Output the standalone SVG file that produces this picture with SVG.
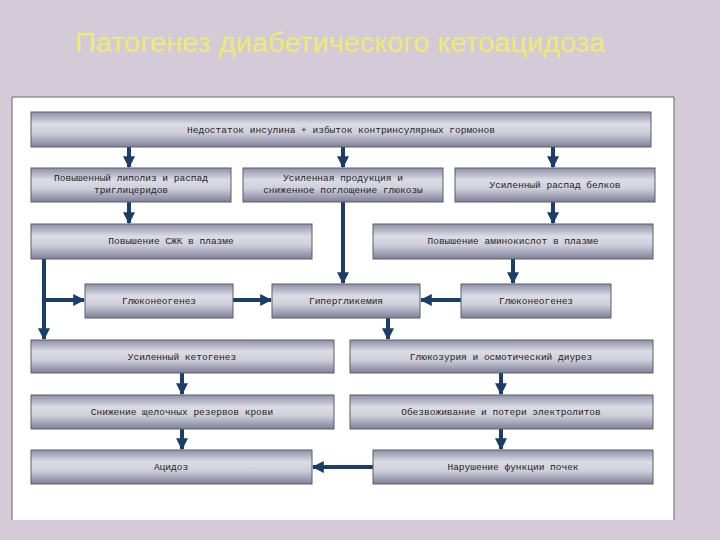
<svg xmlns="http://www.w3.org/2000/svg" width="720" height="540" viewBox="0 0 720 540">
<defs>
<linearGradient id="g" x1="0" y1="0" x2="0" y2="1">
<stop offset="0" stop-color="#8e90a6"/><stop offset="0.35" stop-color="#dcdce6"/><stop offset="0.6" stop-color="#d0d0dc"/><stop offset="1" stop-color="#7e8098"/>
</linearGradient>
<marker id="a" viewBox="0 0 10 10" refX="9" refY="5" markerWidth="3" markerHeight="3.2" orient="auto" markerUnits="strokeWidth"><path d="M0,0 L10,5 L0,10 z" fill="#1b3e68"/></marker>
</defs>
<style>
.b{fill:url(#g);stroke:#5a5c70;stroke-width:1}
.t{font-family:"Liberation Mono",monospace;font-size:9.5px;fill:#222;text-anchor:middle}
.c{stroke:#1b3e68;stroke-width:4;fill:none}
.c1{marker-end:url(#a)}
</style>
<rect width="720" height="540" fill="#d5cbd8"/>
<text x="75" y="52" font-family="Liberation Sans,sans-serif" font-size="27" fill="#ecec70" textLength="530" lengthAdjust="spacingAndGlyphs">Патогенез диабетического кетоацидоза</text>
<rect x="12" y="97" width="662" height="423" fill="#fff"/>
<path d="M12,520 V97 H674 V520" fill="none" stroke="#666" stroke-width="1"/>
<g id="connectors">
<path class="c c1" d="M129,147 V167"/>
<path class="c c1" d="M343,147 V167"/>
<path class="c c1" d="M553,147 V167"/>
<path class="c c1" d="M129,202 V223"/>
<path class="c c1" d="M553,202 V223"/>
<path class="c c1" d="M343,202 V283"/>
<path class="c c1" d="M513,259 V283"/>
<path class="c c1" d="M44,259 V339"/>
<path class="c c1" d="M44,300 H84"/>
<path class="c c1" d="M233,300 H271"/>
<path class="c c1" d="M461,300 H421"/>
<path class="c c1" d="M388,318 V339"/>
<path class="c c1" d="M182,373 V394"/>
<path class="c c1" d="M182,429 V449"/>
<path class="c c1" d="M501,373 V394"/>
<path class="c c1" d="M501,429 V449"/>
<path class="c c1" d="M373,467 H313"/>
</g>
<g id="n1"><rect class="b" x="31" y="112" width="620" height="35"/><text class="t" x="341" y="133">Недостаток инсулина + избыток контринсулярных гормонов</text></g>
<g id="n2"><rect class="b" x="31" y="168" width="200" height="34"/><text class="t" x="131" y="181">Повышенный липолиз и распад</text><text class="t" x="131" y="193">триглицеридов</text></g>
<g id="n3"><rect class="b" x="243" y="168" width="200" height="34"/><text class="t" x="343" y="181">Усиленная продукция и</text><text class="t" x="343" y="193">сниженное поглощение глюкозы</text></g>
<g id="n4"><rect class="b" x="455" y="168" width="200" height="34"/><text class="t" x="555" y="188">Усиленный распад белков</text></g>
<g id="n5"><rect class="b" x="31" y="224" width="281" height="35"/><text class="t" x="171" y="244">Повышение СЖК в плазме</text></g>
<g id="n6"><rect class="b" x="373" y="224" width="280" height="35"/><text class="t" x="513" y="244">Повышение аминокислот в плазме</text></g>
<g id="n7"><rect class="b" x="85" y="284" width="148" height="34"/><text class="t" x="159" y="304">Глюконеогенез</text></g>
<g id="n8"><rect class="b" x="272" y="284" width="148" height="34"/><text class="t" x="346" y="304">Гипергликемия</text></g>
<g id="n9"><rect class="b" x="461" y="284" width="150" height="34"/><text class="t" x="536" y="304">Глюконеогенез</text></g>
<g id="n10"><rect class="b" x="31" y="340" width="303" height="33"/><text class="t" x="182" y="360">Усиленный кетогенез</text></g>
<g id="n11"><rect class="b" x="350" y="340" width="303" height="33"/><text class="t" x="501" y="360">Глюкозурия и осмотический диурез</text></g>
<g id="n12"><rect class="b" x="31" y="395" width="303" height="34"/><text class="t" x="182" y="415">Снижение щелочных резервов крови</text></g>
<g id="n13"><rect class="b" x="350" y="395" width="303" height="34"/><text class="t" x="501" y="415">Обезвоживание и потери электролитов</text></g>
<g id="n14"><rect class="b" x="31" y="450" width="281" height="34"/><text class="t" x="171" y="470">Ацидоз</text></g>
<g id="n15"><rect class="b" x="373" y="450" width="280" height="34"/><text class="t" x="513" y="470">Нарушение функции почек</text></g>
</svg>
